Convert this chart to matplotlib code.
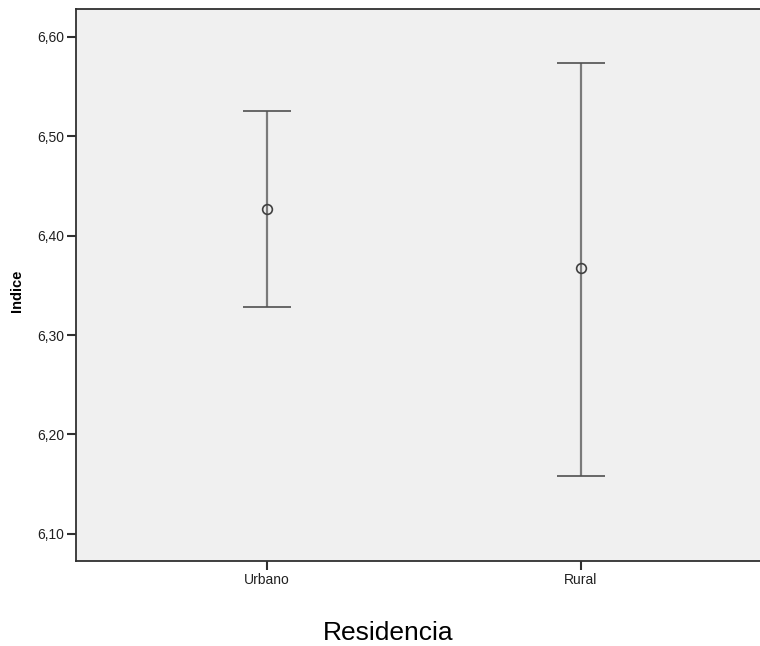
import matplotlib
matplotlib.use("Agg")
import matplotlib.pyplot as plt
import numpy as np

# Residencia groups, mean and 95% CI of Indice
categories = ["Urbano", "Rural"]
means = [6.427, 6.367]
ci_low = [6.3286, 6.1585]
ci_high = [6.5254, 6.5739]
yticks = [6.10, 6.20, 6.30, 6.40, 6.50, 6.60]

plt.rcParams['font.family'] = ['Liberation Sans', 'DejaVu Sans']

fig = plt.figure(figsize=(7.6, 6.46), dpi=100)
ax = fig.add_axes([76/760, 85/646, 696/760, 552/646])
ax.set_facecolor('#f0f0f0')

x = np.arange(1, len(categories) + 1)
m = np.array(means)
err = np.array([m - np.array(ci_low), np.array(ci_high) - m])

ax.errorbar(x, m, yerr=err, fmt='none', ecolor='#7a7a7a', elinewidth=1.6,
            capsize=0, zorder=2)
# caps drawn separately, darker
ax.errorbar(x, m, yerr=err, fmt='none', ecolor='#505050', elinewidth=0,
            capsize=17.3, capthick=1.2, zorder=3)
ax.plot(x, m, 'o', ms=7, mfc='none', mec='#404040', mew=1.2, zorder=4)

ax.set_xlim(0.392, 2.608)
ax.set_ylim(6.0727, 6.628)
ax.set_xticks(x)
ax.set_xticklabels(categories, fontsize=10)
ax.set_yticks(yticks)
ax.set_yticklabels([f"{v:.2f}".replace('.', ',') for v in yticks], fontsize=10)

for s in ['left', 'bottom', 'top']:
    ax.spines[s].set_color('#303030')
    ax.spines[s].set_linewidth(1.3)
ax.spines['right'].set_visible(False)
ax.tick_params(axis='both', length=6.5, width=1.5, color='#303030',
               labelcolor='#202020', pad=2)

fig.text(17.5/760, 1 - 291/646, "Indice", rotation=90, fontsize=10.5,
         fontweight='bold', ha='center', va='center')
fig.text(388/760, 1 - 633/646, "Residencia", fontsize=19,
         ha='center', va='center')

fig.savefig("out.png", dpi=100)
